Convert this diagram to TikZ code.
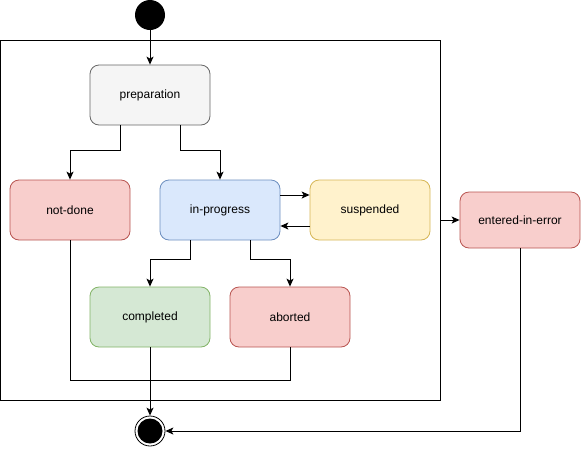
\documentclass[tikz,border=0pt]{standalone}
\usepackage{fontspec}
\setmainfont{Liberation Sans}
\usetikzlibrary{arrows.meta,calc}

\definecolor{greyfill}{HTML}{F5F5F5}\definecolor{greyline}{HTML}{666666}
\definecolor{redfill}{HTML}{F8CECC}\definecolor{redline}{HTML}{B85450}
\definecolor{bluefill}{HTML}{DAE8FC}\definecolor{blueline}{HTML}{6C8EBF}
\definecolor{yellowfill}{HTML}{FFF2CC}\definecolor{yellowline}{HTML}{D6B656}
\definecolor{greenfill}{HTML}{D5E8D4}\definecolor{greenline}{HTML}{82B366}

\tikzset{
  state/.style={draw, rounded corners=9pt, minimum width=120pt, minimum height=60pt,
    inner sep=0pt, line width=0.8pt, font=\fontsize{12}{14}\selectfont},
  arr/.style={line width=1pt, -{Stealth[length=8pt,width=7pt,inset=2pt]}},
  ln/.style={line width=1pt},
}

\begin{document}
\begin{tikzpicture}[x=1pt,y=-1pt]
\useasboundingbox (0,0) rectangle (581,448);
\node[draw, line width=1pt, minimum width=440pt, minimum height=360pt, inner sep=0pt] (frame) at (220.5,220) {};
\node[circle, fill=black, minimum size=30pt, inner sep=0pt] (start) at (150,15) {};
\node[state, fill=greyfill, draw=greyline] (prep) at (150,95) {preparation};
\node[state, fill=redfill, draw=redline] (notdone) at (70,210) {not-done};
\node[state, fill=bluefill, draw=blueline] (inprog) at (220,210) {in-progress};
\node[state, fill=yellowfill, draw=yellowline] (susp) at (370,210) {suspended};
\node[state, fill=greenfill, draw=greenline] (compl) at (150,317) {completed};
\node[state, fill=redfill, draw=redline] (abort) at (290,317) {aborted};
\node[state, fill=redfill, draw=redline, minimum height=56pt] (error) at (520,220) {entered-in-error};
\node[circle, draw, line width=0.8pt, minimum size=30pt, inner sep=0pt] (end) at (150,431) {};
\node[circle, fill=black, minimum size=25pt, inner sep=0pt] (endin) at (end) {};

\path[draw,arr] (start) -- (prep);
\path[draw,arr] ([xshift=-30pt]prep.south) -- ++(0,25) -| (notdone.north);
\path[draw,arr] ([xshift=30pt]prep.south) -- ++(0,25) -| (inprog.north);
\path[draw,arr] ([yshift=15pt]inprog.east) -- ([yshift=15pt]susp.west);
\path[draw,arr] ([yshift=-16pt]susp.west) -- ([yshift=-16pt]inprog.east);
\path[draw,arr] ([xshift=-30pt]inprog.south) -- ++(0,19) -| (compl.north);
\path[draw,arr] ([xshift=30pt]inprog.south) -- ++(0,19) -| (abort.north);
\path[draw,ln] (notdone.south) -- ++(0,140) -| (abort.south);
\path[draw,arr] (compl) -- (end);
\path[draw,arr] (frame.east) -- (error.west);
\path[draw,arr] (error.south) |- (end.east);
\end{tikzpicture}
\end{document}
